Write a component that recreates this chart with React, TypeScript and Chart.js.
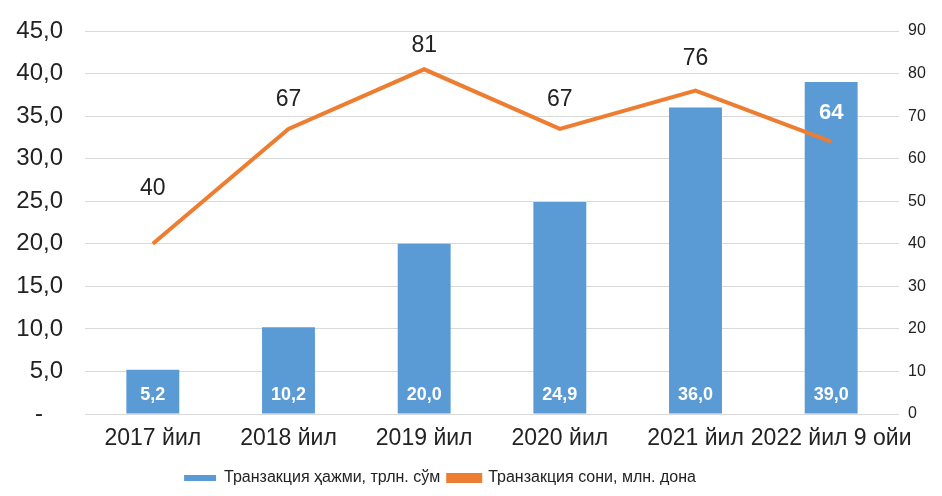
import React, { useEffect, useRef } from "react";
import { Chart, registerables } from "chart.js";

Chart.register(...registerables);

const categories = ["2017 йил", "2018 йил", "2019 йил", "2020 йил", "2021 йил", "2022 йил 9 ойи"];
const volumeValues = [5.2, 10.2, 20.0, 24.9, 36.0, 39.0];
const countValues = [40, 67, 81, 67, 76, 64];
const seriesNames = ["Транзакция ҳажми, трлн. сўм", "Транзакция сони, млн. дона"];
const lineLabelOffsets = [55, 29, 24, 29, 32, 29];
const lineLabelInside = [false, false, false, false, false, true];
const legendShift = -31;

const FONT = "'Liberation Sans', Arial, sans-serif";
const BLUE = "#5b9bd5";
const ORANGE = "#ed7d31";

const fmt = (v: number) => v.toFixed(1).replace(".", ",");

const labelPlugin = {
  id: "valueLabels",
  afterLayout(chart: any) {
    if (chart.legend) {
      chart.legend.left += legendShift;
      chart.legend.right += legendShift;
    }
  },
  afterDatasetsDraw(chart: any) {
    const ctx = chart.ctx;
    ctx.save();
    ctx.textAlign = "center";
    ctx.textBaseline = "middle";
    const barMeta = chart.getDatasetMeta(0);
    barMeta.data.forEach((el: any, i: number) => {
      ctx.fillStyle = "#ffffff";
      ctx.font = `bold 18px ${FONT}`;
      ctx.fillText(fmt(volumeValues[i]), el.x, el.base - 18);
    });
    const lineMeta = chart.getDatasetMeta(1);
    lineMeta.data.forEach((el: any, i: number) => {
      if (lineLabelInside[i]) {
        ctx.fillStyle = "#ffffff";
        ctx.font = `bold 22px ${FONT}`;
      } else {
        ctx.fillStyle = "#222222";
        ctx.font = `23px ${FONT}`;
      }
      ctx.fillText(String(countValues[i]), el.x, el.y - lineLabelOffsets[i]);
    });
    ctx.restore();
  },
};

const zeroPad = (s: any) => {
  s.paddingTop = 0;
  s.paddingBottom = 0;
  s.paddingLeft = 0;
  s.paddingRight = 0;
};

export default function App() {
  const ref = useRef<HTMLCanvasElement | null>(null);
  useEffect(() => {
    document.body.style.margin = "0";
    const chart = new Chart(ref.current!, {
      type: "bar",
      data: {
        labels: categories,
        datasets: [
          {
            type: "bar",
            label: seriesNames[0],
            data: volumeValues,
            backgroundColor: BLUE,
            borderWidth: 0,
            yAxisID: "y",
            categoryPercentage: 1,
            barPercentage: 0.39,
            order: 2,
          },
          {
            type: "line",
            label: seriesNames[1],
            data: countValues,
            borderColor: ORANGE,
            backgroundColor: ORANGE,
            borderWidth: 4,
            pointRadius: 0,
            tension: 0,
            yAxisID: "y1",
            order: 1,
          } as any,
        ],
      },
      options: {
        animation: false,
        responsive: false,
        maintainAspectRatio: false,
        layout: { padding: { top: 31, bottom: 0, left: 0, right: 0 } },
        plugins: {
          tooltip: { enabled: false },
          legend: {
            position: "bottom",
            labels: {
              font: { family: FONT, size: 16 },
              color: "#222",
              boxWidth: 32,
              boxHeight: 6,
              padding: 8,
              sort: (a: any, b: any) => a.datasetIndex - b.datasetIndex,
            },
          },
        },
        scales: {
          x: {
            grid: { display: false },
            border: { display: false },
            ticks: {
              font: { family: FONT, size: 23 },
              color: "#222",
              padding: 3,
              maxRotation: 0,
              minRotation: 0,
              autoSkip: false,
            },
            afterFit(s: any) {
              s.height = 48;
              zeroPad(s);
            },
          },
          y: {
            position: "left",
            min: 0,
            max: 45,
            ticks: {
              stepSize: 5,
              font: { family: FONT, size: 24 },
              color: "#222",
              padding: 22,
              callback: (v: any) => (Number(v) === 0 ? "-   " : fmt(Number(v))),
            },
            grid: { color: "#d9d9d9", lineWidth: 1, drawTicks: false },
            border: { display: false },
            afterFit(s: any) {
              s.width = 85;
              zeroPad(s);
            },
          },
          y1: {
            position: "right",
            min: 0,
            max: 90,
            ticks: {
              stepSize: 10,
              font: { family: FONT, size: 16 },
              color: "#222",
              padding: 9,
            },
            grid: { display: false, drawTicks: false },
            border: { display: false },
            afterFit(s: any) {
              s.width = 43;
              zeroPad(s);
            },
          },
        },
      },
      plugins: [labelPlugin],
    });
    return () => chart.destroy();
  }, []);
  return <canvas ref={ref} width={942} height={496} style={{ display: "block" }} />;
}
